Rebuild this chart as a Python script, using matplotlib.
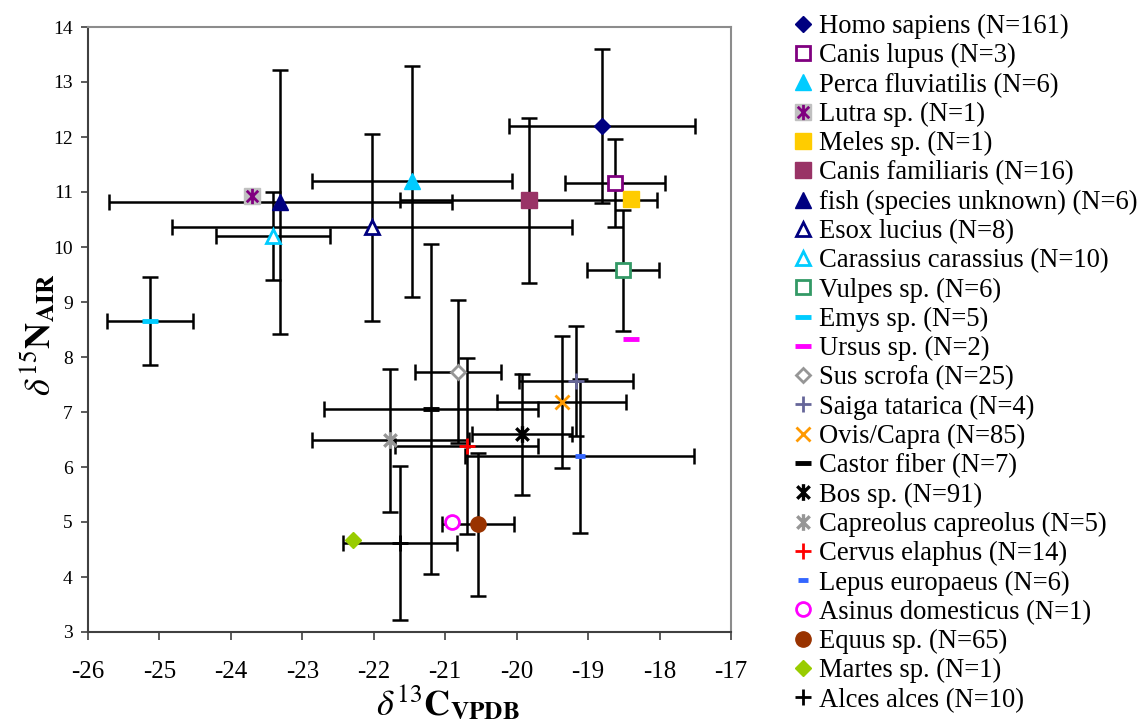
import matplotlib
matplotlib.use('Agg')
import matplotlib.pyplot as plt
from matplotlib.path import Path

# species means and standard deviations (d13C VPDB, d15N AIR)
species = ['Homo sapiens', 'Canis lupus', 'Perca fluviatilis', 'Lutra sp.', 'Meles sp.',
           'Canis familiaris', 'fish (species unknown)', 'Esox lucius', 'Carassius carassius',
           'Vulpes sp.', 'Emys sp.', 'Ursus sp.', 'Sus scrofa', 'Saiga tatarica', 'Ovis/Capra',
           'Castor fiber', 'Bos sp.', 'Capreolus capreolus', 'Cervus elaphus', 'Lepus europaeus',
           'Asinus domesticus', 'Equus sp.', 'Martes sp.', 'Alces alces']
n_samples = [161, 3, 6, 1, 1, 16, 6, 8, 10, 6, 5, 2, 25, 4, 85, 7, 91, 5, 14, 6, 1, 65, 1, 10]
d13c = [-18.81, -18.62, -21.47, -23.70, -18.40, -19.83, -23.31, -22.03, -23.41, -18.51, -25.13, -18.40,
        -20.82, -19.17, -19.37, -21.20, -19.93, -21.77, -20.70, -19.12, -20.91, -20.54, -22.29, -21.63]
d15n = [12.20, 11.16, 11.20, 10.93, 10.87, 10.85, 10.82, 10.36, 10.20, 9.58, 8.65, 8.33,
        7.73, 7.56, 7.18, 7.05, 6.60, 6.49, 6.38, 6.20, 5.00, 4.96, 4.67, 4.62]
sd13c = [1.3, 0.7, 1.4, 0, 0, 1.8, 2.4, 2.8, 0.8, 0.5, 0.6, 0,
         0.6, 0.8, 0.9, 1.5, 0.7, 1.1, 1.0, 1.6, 0, 0.5, 0, 0.8]
sd15n = [1.4, 0.8, 2.1, 0, 0, 1.5, 2.4, 1.7, 0.8, 1.1, 0.8, 0,
         1.3, 1.0, 1.2, 3.0, 1.1, 1.3, 1.6, 1.4, 0, 1.3, 0, 1.4]

plt.rcParams['font.family'] = ['Liberation Serif', 'DejaVu Serif']
plt.rcParams['mathtext.fontset'] = 'stix'
plt.rcParams['axes.unicode_minus'] = False

# excel style "star" marker: vertical bar plus an x
star = Path([(0, -1), (0, 1), (-0.75, -0.75), (0.75, 0.75), (-0.75, 0.75), (0.75, -0.75)],
            [Path.MOVETO, Path.LINETO] * 3)

navy = '#000080'
purple = '#800080'
cyan = '#00CCFF'
grey = '#969696'

styles = [
    dict(marker='D', ms=8, mfc=navy, mec=navy, mew=1),
    dict(marker='s', ms=10, mfc='white', mec=purple, mew=2),
    dict(marker='^', ms=11, mfc=cyan, mec=cyan, mew=1),
    dict(marker=star, ms=11, mfc=purple, mec=purple, mew=2),
    dict(marker='s', ms=11, mfc='#FFCC00', mec='#FFCC00', mew=1),
    dict(marker='s', ms=11, mfc='#993366', mec='#993366', mew=1),
    dict(marker='^', ms=11, mfc=navy, mec=navy, mew=1),
    dict(marker='^', ms=10, mfc='white', mec=navy, mew=2),
    dict(marker='^', ms=10, mfc='white', mec=cyan, mew=2),
    dict(marker='s', ms=10, mfc='white', mec='#339966', mew=2),
    dict(marker='_', ms=12, mec=cyan, mew=3.5),
    dict(marker='_', ms=12, mec='#FF00FF', mew=3.5),
    dict(marker='D', ms=7, mfc='white', mec=grey, mew=2),
    dict(marker='+', ms=12, mec='#666699', mew=2),
    dict(marker='x', ms=10, mec='#FF9900', mew=2),
    dict(marker='_', ms=12, mec='black', mew=3.5),
    dict(marker=star, ms=12, mfc='black', mec='black', mew=2.4),
    dict(marker=star, ms=12, mfc=grey, mec=grey, mew=2.4),
    dict(marker='+', ms=12, mec='#FF0000', mew=2),
    dict(marker='_', ms=7, mec='#3366FF', mew=3.5),
    dict(marker='o', ms=10, mfc='white', mec='#FF00FF', mew=2),
    dict(marker='o', ms=11, mfc='#993300', mec='#993300', mew=1),
    dict(marker='D', ms=8, mfc='#99CC00', mec='#99CC00', mew=1),
    dict(marker='+', ms=12, mec='black', mew=2),
]

fig = plt.figure(figsize=(11.41, 7.27), dpi=100)
ax = fig.add_axes([88 / 1141, 1 - 632 / 727, 643 / 1141, 605 / 727])

for i in range(len(species)):
    if sd13c[i] > 0 or sd15n[i] > 0:
        ax.errorbar(d13c[i], d15n[i], xerr=sd13c[i], yerr=sd15n[i], fmt='none',
                    ecolor='black', elinewidth=1.8, capsize=5.5, capthick=1.8, zorder=2)

handles = []
labels = []
for i, name in enumerate(species):
    if name == 'Lutra sp.':
        bg, = ax.plot(d13c[i], d15n[i], ls='none', marker='s', ms=11,
                      mfc='#C0C0C0', mec='#C0C0C0', zorder=3)
        fg, = ax.plot(d13c[i], d15n[i], ls='none', zorder=4, **styles[i])
        handles.append((bg, fg))
    else:
        h, = ax.plot(d13c[i], d15n[i], ls='none', zorder=4, **styles[i])
        handles.append(h)
    labels.append(f'{name} (N={n_samples[i]})')

ax.set_xlim(-26, -17)
ax.set_ylim(3, 14)
ax.set_xticks(range(-26, -16))
ax.set_yticks(range(3, 15))

for side in ['left', 'bottom']:
    ax.spines[side].set_color('#404040')
    ax.spines[side].set_linewidth(1.5)
for side in ['top', 'right']:
    ax.spines[side].set_color('#8c8c8c')
    ax.spines[side].set_linewidth(1.5)

ax.tick_params(axis='x', direction='out', length=6, width=1.2, color='#404040',
               labelsize=18, pad=15)
ax.tick_params(axis='y', direction='out', length=5, width=1.2, color='#404040',
               labelsize=14, pad=6)

fig.text(448 / 1141, 1 - 703 / 727, r'$\delta^{13}\mathbf{C}_{\mathbf{VPDB}}$',
         fontsize=26, ha='center', va='center')
fig.text(38 / 1141, 1 - 335 / 727, r'$\delta^{15}\mathbf{N}_{\mathbf{AIR}}$',
         fontsize=26, ha='center', va='center', rotation=90)

fig.legend(handles, labels, loc='upper left', bbox_to_anchor=(792 / 1141, 1 - 14 / 727),
           frameon=False, fontsize=19.2, handlelength=0.8, handletextpad=0.22,
           labelspacing=0.157, borderaxespad=0, borderpad=0)

fig.savefig('out.png', dpi=100)
